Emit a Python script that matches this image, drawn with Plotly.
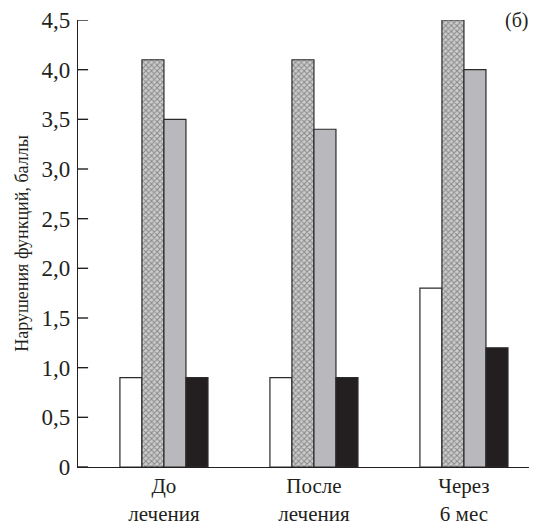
import plotly.graph_objects as go

categories = ["До<br>лечения", "После<br>лечения", "Через<br>6 мес"]
s_white = [0.9, 0.9, 1.8]
s_pattern = [4.1, 4.1, 4.5]
s_gray = [3.5, 3.4, 4.0]
s_black = [0.9, 0.9, 1.2]
y_tickvals = [0, 0.5, 1.0, 1.5, 2.0, 2.5, 3.0, 3.5, 4.0, 4.5]
y_ticktext = ["0", "0,5", "1,0", "1,5", "2,0", "2,5", "3,0", "3,5", "4,0", "4,5"]

x = [0, 1, 2]
x_range = [-0.573, 2.487]
line = dict(color="#2a2a2a", width=1.2)
fig = go.Figure()
fig.add_bar(x=x, y=s_white, marker=dict(color="white", line=line))
fig.add_bar(x=x, y=s_pattern, marker=dict(color="#c8c8c8", line=line,
            pattern=dict(shape="x", size=4, solidity=0.45, fgcolor="#454545", bgcolor="#cdcdcd")))
fig.add_bar(x=x, y=s_gray, marker=dict(color="#b9b9bd", line=line))
fig.add_bar(x=x, y=s_black, marker=dict(color="#231f20", line=line))

# inward tick marks on the y axis, one per tick value
for v in y_tickvals:
    fig.add_shape(type="line", xref="paper", yref="y", x0=0, x1=0.022, y0=v, y1=v,
                  line=dict(color="#231f20", width=1.4), layer="above")

font = "Liberation Serif"
# page has an 8px body margin: figure is drawn offset by 8px
fig.update_layout(
    width=529, height=515,
    margin=dict(l=70, r=0, t=12, b=56),
    paper_bgcolor="white", plot_bgcolor="white",
    barmode="group", bargap=0.413, bargroupgap=0,
    showlegend=False,
    font=dict(family=font, size=18, color="#231f20"),
    xaxis=dict(range=x_range, tickvals=x, ticktext=categories,
               showline=True, linecolor="#231f20", linewidth=1.2,
               ticks="", showgrid=False, zeroline=False,
               ticklabelstandoff=0, automargin=False,
               tickfont=dict(size=21)),
    yaxis=dict(range=[0, 4.5], tickvals=y_tickvals, ticktext=y_ticktext,
               showline=True, linecolor="#231f20", linewidth=1.2,
               ticks="", ticklabelstandoff=2,
               showgrid=False, zeroline=False, automargin=False,
               tickfont=dict(size=23),
               title=dict(text="Нарушения функций, баллы", standoff=8, font=dict(size=18))),
    annotations=[dict(text="(б)", x=1.0, y=1.0, xref="paper", yref="paper",
                      xanchor="right", yanchor="middle", showarrow=False,
                      xshift=-6, font=dict(size=20))],
)
fig.write_html("out.html")
